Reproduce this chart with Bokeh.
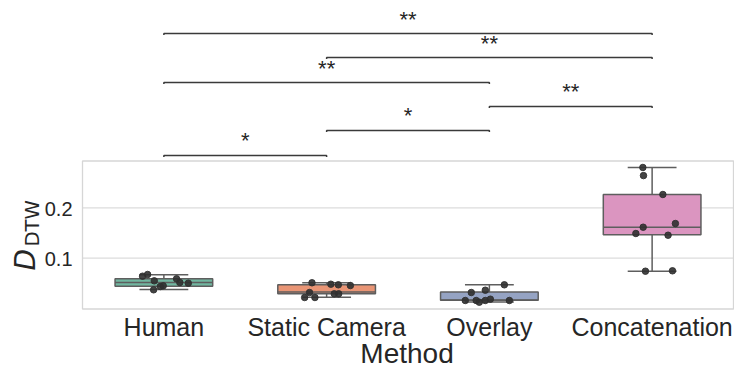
from bokeh.plotting import figure
from bokeh.models import Range1d, ColumnDataSource
from bokeh.embed import file_html
from bokeh.resources import INLINE
from bokeh.core.properties import value
import math

# ---------------- data ----------------
categories = ["Human", "Static Camera", "Overlay", "Concatenation"]
colors = ["#71b7a1", "#e99575", "#95a3c3", "#db95c0"]

# box statistics
q1 = [0.0444, 0.0294, 0.0165, 0.1464]
median = [0.0518, 0.0327, 0.0172, 0.1615]
q3 = [0.0591, 0.0472, 0.0327, 0.2264]
whisker_low = [0.0379, 0.0226, 0.0130, 0.0742]
whisker_high = [0.0670, 0.0512, 0.0472, 0.2800]

# individual observations (value, jitter offset)
human_vals = [0.0643, 0.0677, 0.0551, 0.0438, 0.0452, 0.0373, 0.0591, 0.0518, 0.0504]
human_jit = [-0.131, -0.100, -0.059, -0.022, -0.004, -0.063, 0.078, 0.098, 0.150]
static_vals = [0.0512, 0.0484, 0.0472, 0.0458, 0.0319, 0.0220, 0.0220, 0.0294, 0.0294]
static_jit = [-0.090, 0.026, 0.072, 0.146, -0.105, -0.135, -0.072, 0.047, 0.074]
overlay_vals = [0.0319, 0.0365, 0.0472, 0.0161, 0.0161, 0.0127, 0.0161, 0.0187, 0.0161]
overlay_jit = [-0.111, -0.025, 0.092, -0.148, -0.081, -0.062, -0.025, 0.006, 0.123]
concat_vals = [0.2800, 0.2639, 0.2264, 0.1615, 0.1688, 0.1490, 0.1456, 0.0742, 0.0750]
concat_jit = [-0.057, -0.053, 0.066, -0.055, 0.143, -0.100, 0.098, -0.041, 0.125]

# significance brackets
pair_left = [0, 1, 2, 0, 1, 0]
pair_right = [1, 2, 3, 2, 3, 3]
pair_level = [0.3038, 0.3534, 0.4010, 0.4486, 0.4982, 0.5458]
pair_label = ["*", "*", "**", "**", "**", "**"]

y_ticks = [0.1, 0.2]
y_tick_labels = ["0.1", "0.2"]
y_plot_bottom = -0.0008
y_plot_top = 0.2929
x_label = "Method"

# ---------------- figure ----------------
FONT = "Liberation Sans"
TXT = "#262626"
SHIFT = 8.5  # correction for the renderer's baseline placement

p = figure(width=734, height=368, output_backend="svg", toolbar_location=None,
           x_range=Range1d(-1.00384, 3.50614), y_range=Range1d(-0.11885, 0.61131),
           min_border=0)
p.axis.visible = False
p.grid.visible = False
p.outline_line_color = None
p.background_fill_color = "white"
p.border_fill_color = "white"

# grid lines inside the plot box
p.segment(x0=[-0.5] * len(y_ticks), y0=y_ticks, x1=[3.5] * len(y_ticks), y1=y_ticks,
          line_color="#dcdcdc", line_width=1.2)
# plot box frame
p.quad(left=[-0.5], right=[3.5], bottom=[y_plot_bottom], top=[y_plot_top],
       fill_color=None, line_color="#d6d6d6", line_width=1.3)

EDGE = "#5e5e5e"
xs = list(range(len(categories)))
hw = 0.3
cw = 0.15

# whiskers
p.segment(x0=xs, y0=q3, x1=xs, y1=whisker_high, line_color=EDGE, line_width=1.5)
p.segment(x0=xs, y0=q1, x1=xs, y1=whisker_low, line_color=EDGE, line_width=1.5)
p.segment(x0=[x - cw for x in xs], y0=whisker_high, x1=[x + cw for x in xs], y1=whisker_high,
          line_color=EDGE, line_width=1.5)
p.segment(x0=[x - cw for x in xs], y0=whisker_low, x1=[x + cw for x in xs], y1=whisker_low,
          line_color=EDGE, line_width=1.5)
# boxes
p.quad(left=[x - hw for x in xs], right=[x + hw for x in xs], bottom=q1, top=q3,
       fill_color=colors, line_color=EDGE, line_width=1.5)
p.segment(x0=[x - hw for x in xs], y0=median, x1=[x + hw for x in xs], y1=median,
          line_color=EDGE, line_width=1.5)

# points
groups = [(human_vals, human_jit), (static_vals, static_jit),
          (overlay_vals, overlay_jit), (concat_vals, concat_jit)]
px, py = [], []
for i, (vals, jit) in enumerate(groups):
    for v, j in zip(vals, jit):
        px.append(i + j)
        py.append(v)
p.scatter(px, py, size=6.5, fill_color="#303030", line_color="#303030", alpha=0.9)

# brackets
tick = 0.003
bx, by = [], []
for a, b, lv in zip(pair_left, pair_right, pair_level):
    bx.append([a, a, b, b])
    by.append([lv - tick, lv, lv, lv - tick])
p.multi_line(bx, by, line_color="#3a3a3a", line_width=1.5)
src = ColumnDataSource(dict(x=[(a + b) / 2 for a, b in zip(pair_left, pair_right)],
                            y=pair_level, t=pair_label))
p.text(x="x", y="y", text="t", source=src, text_align="center", text_baseline="alphabetic",
       y_offset=-6 - SHIFT, text_font=value(FONT), text_font_size="22px", text_color=TXT)

# x tick labels
p.text(x=xs, y=[y_plot_bottom] * len(xs), text=categories, text_align="center",
       text_baseline="alphabetic", y_offset=26.5 - SHIFT, text_font=value(FONT),
       text_font_size="25px", text_color=TXT)
# y tick labels
p.text(x=[-0.5] * len(y_ticks), y=y_ticks, text=y_tick_labels, text_align="right",
       text_baseline="middle", x_offset=-10, y_offset=1, text_font=value(FONT),
       text_font_size="20px", text_color=TXT)

# axis labels
p.text(x=[1.494], y=[y_plot_bottom], text=[x_label], text_align="center",
       text_baseline="alphabetic", y_offset=53 - SHIFT, text_font=value(FONT),
       text_font_size="28px", text_color=TXT)
p.text(x=[-0.5], y=[0.0756], text=["D"], angle=math.pi / 2, text_align="left",
       text_baseline="alphabetic", x_offset=-47.5 - 9.5, text_font=value("DejaVu Sans"),
       text_font_style="italic", text_font_size="28px", text_color=TXT)
p.text(x=[-0.5], y=[0.1232], text=["DTW"], angle=math.pi / 2, text_align="left",
       text_baseline="alphabetic", x_offset=-43 - 6.7, text_font=value("DejaVu Sans"),
       text_font_size="19.6px", text_color=TXT)

open("out.html", "w").write(file_html(p, INLINE))
